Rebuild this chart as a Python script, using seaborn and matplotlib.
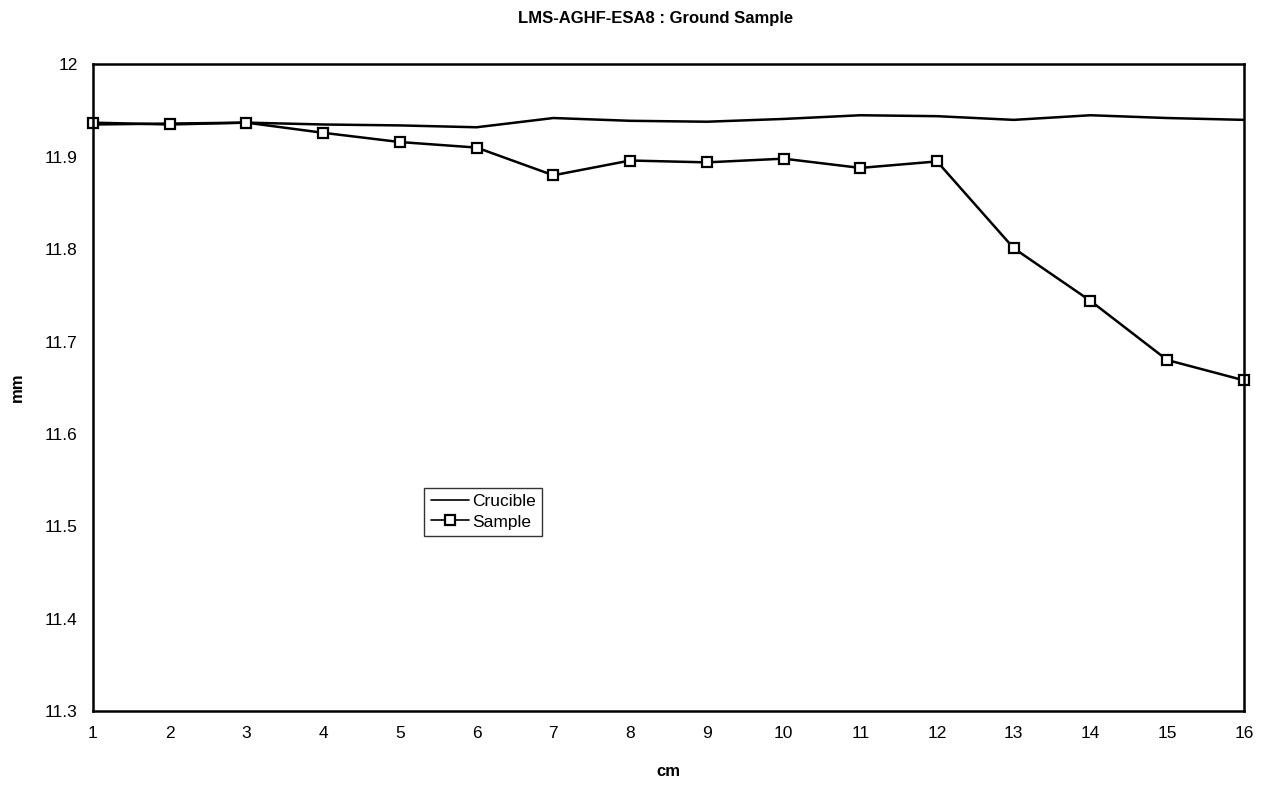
import matplotlib
matplotlib.use("Agg")
import matplotlib.pyplot as plt
import seaborn as sns
import pandas as pd

# Measured diameters along the ampoule
positions_cm = [1, 2, 3, 4, 5, 6, 7, 8, 9, 10, 11, 12, 13, 14, 15, 16]
crucible_mm = [11.935, 11.936, 11.937, 11.935, 11.934, 11.932, 11.942, 11.939,
               11.938, 11.941, 11.945, 11.944, 11.940, 11.945, 11.942, 11.940]
sample_mm = [11.937, 11.935, 11.937, 11.926, 11.916, 11.910, 11.880, 11.896,
             11.894, 11.898, 11.888, 11.895, 11.801, 11.744, 11.680, 11.658]

y_ticks = [11.3, 11.4, 11.5, 11.6, 11.7, 11.8, 11.9, 12.0]
y_tick_labels = ["11.3", "11.4", "11.5", "11.6", "11.7", "11.8", "11.9", "12"]

sns.set_style("white")
plt.rcParams["font.family"] = ["Liberation Sans", "DejaVu Sans"]
plt.rcParams["text.color"] = "black"
plt.rcParams["axes.labelcolor"] = "black"
plt.rcParams["xtick.color"] = "black"
plt.rcParams["ytick.color"] = "black"

crucible_df = pd.DataFrame({"cm": positions_cm, "mm": crucible_mm})
sample_df = pd.DataFrame({"cm": positions_cm, "mm": sample_mm})

fig = plt.figure(figsize=(12.7, 7.86), dpi=100)
ax = fig.add_axes([0.0732, 0.0954, 0.9063, 0.8226])

sns.lineplot(data=crucible_df, x="cm", y="mm", color="black",
             linewidth=1.8, label="Crucible", ax=ax)
sns.lineplot(data=sample_df, x="cm", y="mm", color="black",
             linewidth=1.8, marker="s", markersize=7.5,
             markerfacecolor="white", markeredgecolor="black",
             markeredgewidth=1.6, label="Sample", ax=ax)
for line in ax.get_lines():
    line.set_clip_on(False)

ax.set_xlim(1, 16)
ax.set_ylim(11.3, 12.0)
ax.set_xticks(positions_cm)
ax.set_xticklabels([str(p) for p in positions_cm], fontsize=12.5)
ax.set_yticks(y_ticks)
ax.set_yticklabels(y_tick_labels, fontsize=12.5)
ax.tick_params(axis="both", direction="inout", length=6, width=1,
               colors="black", pad=8)

for spine in ax.spines.values():
    spine.set_color("black")
    spine.set_linewidth(1.8)

ax.set_xlabel("cm", fontsize=12, fontweight="bold", labelpad=16)
ax.set_ylabel("mm", fontsize=12, fontweight="bold", labelpad=14)

fig.text(0.5165, 1 - 18 / 786, "LMS-AGHF-ESA8 : Ground Sample",
         ha="center", va="center", fontsize=12, fontweight="bold")

handles, labels = ax.get_legend_handles_labels()
leg = ax.legend(handles, labels, loc="upper left", bbox_to_anchor=(0.288, 0.345),
                frameon=True, fancybox=False, edgecolor="black", fontsize=12.5,
                handlelength=2.2, handletextpad=0.2, borderpad=0.35,
                labelspacing=0.3, borderaxespad=0)
leg.get_frame().set_linewidth(1.0)
for h in leg.get_lines():
    h.set_linewidth(1.2)

fig.savefig("out.png", dpi=100)
